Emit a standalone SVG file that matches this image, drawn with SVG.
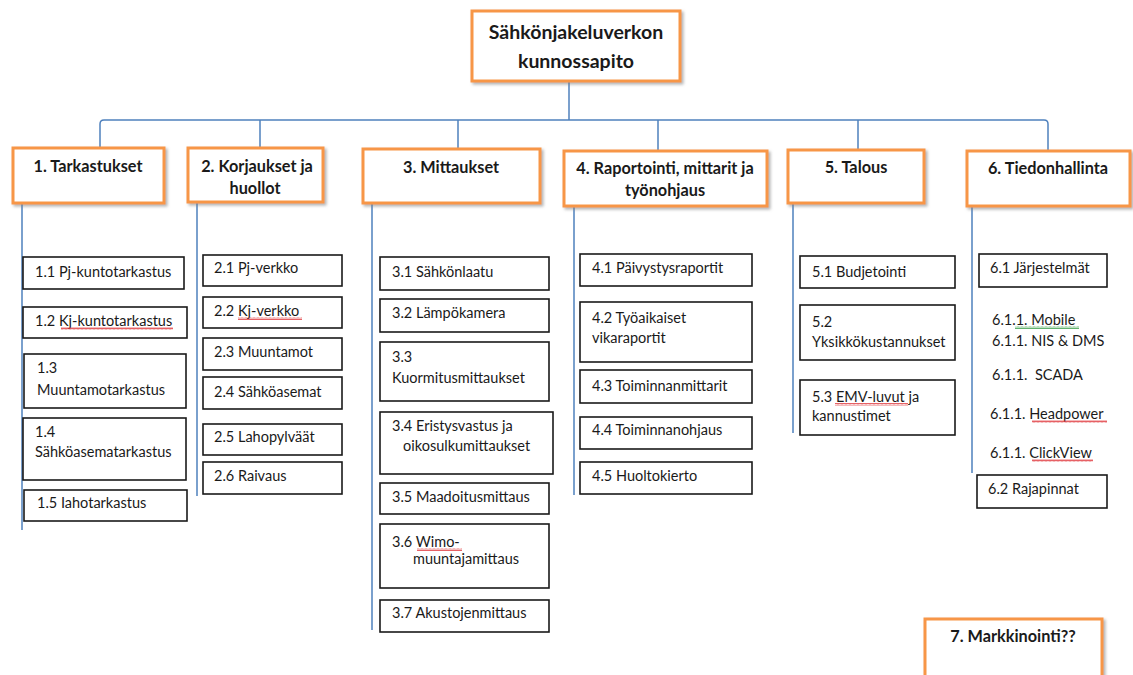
<svg xmlns="http://www.w3.org/2000/svg" width="1133" height="675" viewBox="0 0 1133 675">
<defs>
<filter id="sh" x="-10%" y="-10%" width="130%" height="140%">
<feDropShadow dx="2" dy="2" stdDeviation="1.5" flood-color="#808080" flood-opacity="0.6"/>
</filter>
<pattern id="redsq" width="4" height="3" patternUnits="userSpaceOnUse">
<polyline points="0,2.5 1,0.5 2,2.5 3,0.5 4,2.5" fill="none" stroke="#e0393e" stroke-width="0.8"/>
</pattern>
<pattern id="grnsq" width="4" height="3" patternUnits="userSpaceOnUse">
<polyline points="0,2.5 1,0.5 2,2.5 3,0.5 4,2.5" fill="none" stroke="#3aa04a" stroke-width="0.8"/>
</pattern>
</defs>
<style>
.main{fill:#fff;stroke:#f79646;stroke-width:3;filter:url(#sh)}
.sub{fill:#fff;stroke:#1a1a1a;stroke-width:1.6}
.h{font-family:Lato,"Open Sans",sans-serif;font-weight:bold;font-size:16.3px;fill:#1a1a1a;text-anchor:middle}
.ttl{font-size:19.5px}
.t{font-family:Lato,"Open Sans",sans-serif;font-size:14.5px;fill:#1a1a1a}
.ln{fill:none;stroke:#4f81bd;stroke-width:1.5}
</style>
<rect width="1133" height="675" fill="#fff"/>

<g id="connectors">
<path class="ln" d="M569,82 V120"/>
<path class="ln" d="M100,147 V124 Q100,120 104,120 H1044 Q1048,120 1048,124 V151"/>
<path class="ln" d="M260,120 V148 M458,120 V149 M658,120 V151 M858,120 V150"/>
<path class="ln" d="M22,203 V530 M197,202 V496 M372,203 V630 M574,206 V495 M793,203 V433 M972,206 V473"/>
</g>

<g id="n0">
<rect class="main" x="472" y="11" width="208" height="70"/>
<text class="h ttl" x="576" y="39">Sähkönjakeluverkon</text>
<text class="h ttl" x="576" y="68">kunnossapito</text>
</g>

<g id="n1"><rect class="main" x="13" y="148" width="151" height="55"/><text class="h" x="88" y="172">1. Tarkastukset</text></g>
<g id="n2"><rect class="main" x="188" y="148" width="135" height="54"/><text class="h" x="257" y="172">2. Korjaukset ja</text><text class="h" x="255" y="194">huollot</text></g>
<g id="n3"><rect class="main" x="363" y="149" width="177" height="54"/><text class="h" x="451" y="173">3. Mittaukset</text></g>
<g id="n4"><rect class="main" x="564" y="151" width="203" height="55"/><text class="h" x="665" y="174">4. Raportointi, mittarit ja</text><text class="h" x="665" y="196">työnohjaus</text></g>
<g id="n5"><rect class="main" x="788" y="150" width="136" height="53"/><text class="h" x="856" y="173">5. Talous</text></g>
<g id="n6"><rect class="main" x="967" y="151" width="163" height="55"/><text class="h" x="1048" y="174">6. Tiedonhallinta</text></g>
<g id="n7"><rect class="main" x="925" y="619" width="177" height="62"/><text class="h" x="1013" y="642">7. Markkinointi??</text></g>

<g id="n1_1"><rect class="sub" x="23" y="257" width="161" height="32"/><text class="t" x="35" y="277">1.1 Pj-kuntotarkastus</text></g>
<g id="n1_2"><rect class="sub" x="23" y="307" width="164" height="31"/><text class="t" x="35" y="326">1.2 Kj-kuntotarkastus</text><rect x="61" y="327" width="112" height="3" fill="url(#redsq)"/></g>
<g id="n1_3"><rect class="sub" x="24" y="354" width="162" height="54"/><text class="t" x="37" y="373">1.3</text><text class="t" x="37" y="395">Muuntamotarkastus</text></g>
<g id="n1_4"><rect class="sub" x="23" y="418" width="163" height="62"/><text class="t" x="35" y="437">1.4</text><text class="t" x="35" y="457">Sähköasematarkastus</text></g>
<g id="n1_5"><rect class="sub" x="24" y="490" width="163" height="31"/><text class="t" x="37" y="508">1.5 Iahotarkastus</text></g>

<g id="n2_1"><rect class="sub" x="203" y="255" width="139" height="31"/><text class="t" x="214" y="273">2.1 Pj-verkko</text></g>
<g id="n2_2"><rect class="sub" x="203" y="297" width="139" height="31"/><text class="t" x="214" y="316">2.2 Kj-verkko</text><rect x="238" y="317" width="64" height="3" fill="url(#redsq)"/></g>
<g id="n2_3"><rect class="sub" x="203" y="338" width="139" height="32"/><text class="t" x="214" y="357">2.3 Muuntamot</text></g>
<g id="n2_4"><rect class="sub" x="203" y="377" width="139" height="32"/><text class="t" x="214" y="397">2.4 Sähköasemat</text></g>
<g id="n2_5"><rect class="sub" x="203" y="424" width="139" height="31"/><text class="t" x="214" y="442">2.5 Lahopylväät</text></g>
<g id="n2_6"><rect class="sub" x="203" y="462" width="139" height="32"/><text class="t" x="214" y="481">2.6 Raivaus</text></g>

<g id="n3_1"><rect class="sub" x="380" y="257" width="169" height="33"/><text class="t" x="392" y="277">3.1 Sähkönlaatu</text></g>
<g id="n3_2"><rect class="sub" x="380" y="299" width="169" height="33"/><text class="t" x="392" y="318">3.2 Lämpökamera</text></g>
<g id="n3_3"><rect class="sub" x="380" y="342" width="169" height="59"/><text class="t" x="392" y="362">3.3</text><text class="t" x="392" y="383">Kuormitusmittaukset</text></g>
<g id="n3_4"><rect class="sub" x="380" y="412" width="173" height="62"/><text class="t" x="392" y="431">3.4 Eristysvastus ja</text><text class="t" x="403" y="451">oikosulkumittaukset</text></g>
<g id="n3_5"><rect class="sub" x="380" y="483" width="169" height="31"/><text class="t" x="392" y="502">3.5 Maadoitusmittaus</text></g>
<g id="n3_6"><rect class="sub" x="380" y="524" width="169" height="64"/><text class="t" x="392" y="547">3.6 Wimo-</text><rect x="417" y="548" width="45" height="3" fill="url(#redsq)"/><text class="t" x="413" y="564">muuntajamittaus</text></g>
<g id="n3_7"><rect class="sub" x="380" y="600" width="169" height="32"/><text class="t" x="392" y="618">3.7 Akustojenmittaus</text></g>

<g id="n4_1"><rect class="sub" x="580" y="254" width="172" height="32"/><text class="t" x="592" y="273">4.1 Päivystysraportit</text></g>
<g id="n4_2"><rect class="sub" x="580" y="302" width="172" height="60"/><text class="t" x="592" y="323">4.2 Työaikaiset</text><text class="t" x="592" y="343">vikaraportit</text></g>
<g id="n4_3"><rect class="sub" x="580" y="370" width="172" height="33"/><text class="t" x="592" y="391">4.3 Toiminnanmittarit</text></g>
<g id="n4_4"><rect class="sub" x="580" y="417" width="172" height="32"/><text class="t" x="592" y="435">4.4 Toiminnanohjaus</text></g>
<g id="n4_5"><rect class="sub" x="580" y="462" width="172" height="32"/><text class="t" x="592" y="481">4.5 Huoltokierto</text></g>

<g id="n5_1"><rect class="sub" x="800" y="256" width="155" height="32"/><text class="t" x="812" y="277">5.1 Budjetointi</text></g>
<g id="n5_2"><rect class="sub" x="800" y="305" width="155" height="55"/><text class="t" x="812" y="327">5.2</text><text class="t" x="812" y="347">Yksikkökustannukset</text></g>
<g id="n5_3"><rect class="sub" x="800" y="380" width="155" height="55"/><text class="t" x="812" y="402">5.3 EMV-luvut ja</text><rect x="835" y="403" width="73" height="3" fill="url(#redsq)"/><text class="t" x="812" y="421">kannustimet</text></g>

<g id="n6_1"><rect class="sub" x="979" y="254" width="128" height="33"/><text class="t" x="990" y="273">6.1 Järjestelmät</text></g>
<g id="n6_1_1">
<text class="t" x="992" y="325">6.1.1. Mobile</text><rect x="1015" y="326" width="64" height="3" fill="url(#grnsq)"/>
<text class="t" x="992" y="346">6.1.1. NIS &amp; DMS</text>
<text class="t" x="992" y="380" xml:space="preserve">6.1.1.  SCADA</text>
<text class="t" x="990" y="419">6.1.1. Headpower</text><rect x="1032" y="420" width="75" height="3" fill="url(#redsq)"/>
<text class="t" x="990" y="458">6.1.1. ClickView</text><rect x="1032" y="459" width="61" height="3" fill="url(#redsq)"/>
</g>
<g id="n6_2"><rect class="sub" x="977" y="475" width="130" height="33"/><text class="t" x="988" y="494">6.2 Rajapinnat</text></g>
</svg>
